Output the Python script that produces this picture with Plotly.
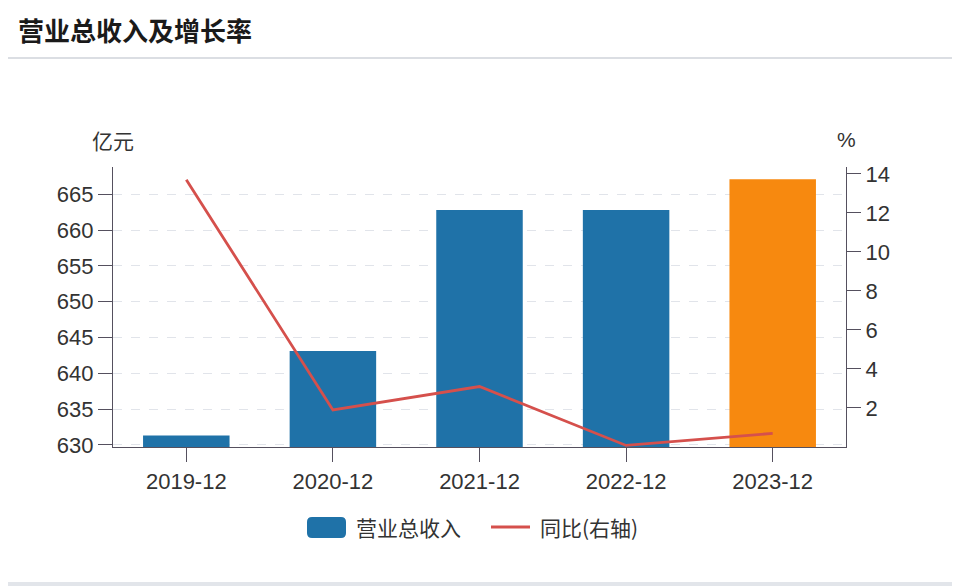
import plotly.graph_objects as go

periods = ['2019-12', '2020-12', '2021-12', '2022-12', '2023-12']
revenue = [631.3, 643.1, 662.8, 662.8, 667.1]  # 亿元
yoy = [13.7, 1.9, 3.1, 0.08, 0.7]  # %
bar_colors = ['#1f72a8', '#1f72a8', '#1f72a8', '#1f72a8', '#f7890f']

# page is offset by the 8px body margin; plot area in figure px
L, T, W, H = 105, 159, 733, 280


def px(x):
    return (x - 8 - L) / W


def py(y):
    return (T + H - (y - 8)) / H


fig = go.Figure()
fig.add_trace(go.Bar(
    x=periods, y=revenue, name='营业总收入',
    marker=dict(color=bar_colors, line=dict(width=0)),
    width=0.59, yaxis='y'
))
fig.add_trace(go.Scatter(
    x=periods, y=yoy, name='同比(右轴)', mode='lines',
    line=dict(color='#d5504c', width=2.8), yaxis='y2'
))

axis_col = '#55505e'
num_font = 'Liberation Sans, Arial, sans-serif'
tick_font = dict(family=num_font, size=22, color='#333333')

# legend drawn by hand so the bar swatch can be a large rounded box
x0, x1, y0, y1, r = px(307), px(346), py(538), py(517), 5
rx, ry = r / W, r / H
swatch = (f'M {x0 + rx},{y0} L {x1 - rx},{y0} Q {x1},{y0} {x1},{y0 + ry} '
          f'L {x1},{y1 - ry} Q {x1},{y1} {x1 - rx},{y1} L {x0 + rx},{y1} '
          f'Q {x0},{y1} {x0},{y1 - ry} L {x0},{y0 + ry} Q {x0},{y0} {x0 + rx},{y0} Z')

fig.update_layout(
    width=960, height=587,
    paper_bgcolor='#ffffff', plot_bgcolor='#ffffff',
    margin=dict(l=L, r=960 - L - W, t=T, b=587 - T - H),
    font=dict(family='Noto Sans CJK SC, sans-serif', color='#333333'),
    showlegend=False,
    xaxis=dict(
        type='category', range=[-0.5, 4.5],
        showline=True, linecolor=axis_col, linewidth=1.2,
        ticks='outside', ticklen=14, tickcolor=axis_col, tickwidth=1.2,
        tickfont=tick_font, showgrid=False, zeroline=False
    ),
    yaxis=dict(
        range=[629.7, 668.8], tickvals=[630, 635, 640, 645, 650, 655, 660, 665],
        showline=True, linecolor=axis_col, linewidth=1.2,
        ticks='outside', ticklen=14, tickcolor=axis_col, tickwidth=1.2,
        tickfont=tick_font,
        showgrid=True, gridcolor='#e1e4ea', griddash='dash', gridwidth=1,
        zeroline=False
    ),
    yaxis2=dict(
        overlaying='y', side='right', range=[0, 14.35],
        tickvals=[2, 4, 6, 8, 10, 12, 14],
        showline=True, linecolor=axis_col, linewidth=1.2,
        ticks='outside', ticklen=14, tickcolor=axis_col, tickwidth=1.2,
        tickfont=tick_font, showgrid=False, zeroline=False
    ),
    shapes=[
        dict(type='line', xref='paper', yref='paper', x0=px(0), x1=px(958),
             y0=py(58), y1=py(58), line=dict(color='#cfd3da', width=1.5)),
        dict(type='line', xref='paper', yref='paper', x0=px(0), x1=px(958),
             y0=py(584), y1=py(584), line=dict(color='#e2e5ea', width=4)),
        dict(type='path', xref='paper', yref='paper', path=swatch,
             fillcolor='#1f72a8', line=dict(width=0)),
        dict(type='line', xref='paper', yref='paper', x0=px(491), x1=px(530),
             y0=py(527), y1=py(527), line=dict(color='#d5504c', width=3)),
    ],
    annotations=[
        dict(text='<b>营业总收入及增长率</b>', xref='paper', yref='paper',
             x=px(16), y=py(29), xanchor='left', yanchor='middle',
             showarrow=False, font=dict(size=26, color='#1a1a1a')),
        dict(text='亿元', xref='paper', yref='paper', x=px(113), y=py(140),
             xanchor='center', yanchor='middle', showarrow=False,
             font=dict(size=21, color='#333333')),
        dict(text='%', xref='paper', yref='paper', x=px(846), y=py(140),
             xanchor='center', yanchor='middle', showarrow=False,
             font=dict(family=num_font, size=21, color='#333333')),
        dict(text='营业总收入', xref='paper', yref='paper', x=px(354), y=py(527),
             xanchor='left', yanchor='middle', showarrow=False,
             font=dict(size=21, color='#333333')),
        dict(text='同比(右轴)', xref='paper', yref='paper', x=px(538), y=py(527),
             xanchor='left', yanchor='middle', showarrow=False,
             font=dict(size=21, color='#333333')),
    ],
)

fig.write_html("out.html")
